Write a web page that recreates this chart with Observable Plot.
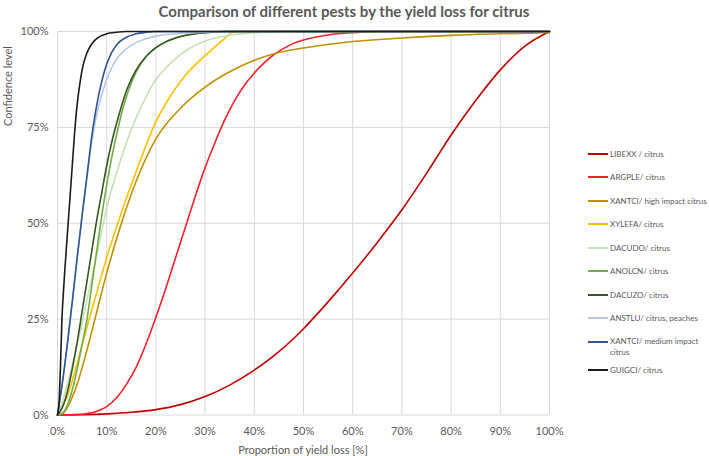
<!DOCTYPE html>
<html>
<head>
<meta charset="utf-8">
<script src="https://cdn.jsdelivr.net/npm/d3@7"></script>
<script src="https://cdn.jsdelivr.net/npm/@observablehq/plot@0.6"></script>
<style>
  body { margin: 0; background: #fff; font-family: Lato, "Open Sans", sans-serif; }
  #wrap { position: relative; width: 709px; height: 456px; overflow: hidden; }
  #title { position: absolute; left: 0; width: 688px; top: 2px; text-align: center; font-weight: bold; font-size: 15px; color: #595959; }
  #ylab { position: absolute; left: 7px; top: 86px; transform: translate(-50%, -50%) rotate(-90deg); white-space: nowrap; font-size: 11px; color: #595959; }
  #xlab { position: absolute; left: 303px; top: 449px; transform: translate(-50%, -50%); white-space: nowrap; font-size: 11px; color: #595959; }
  .leg { position: absolute; left: 588px; width: 118px; display: flex; align-items: flex-start; font-size: 8px; color: #595959; }
  .leg .sw { width: 20px; height: 2px; margin-top: 5px; margin-right: 2px; flex: none; }
  .leg .tx { flex: none; width: 96px; line-height: 12px; white-space: nowrap; }
  .leg .tx.wrapme { width: 92px; white-space: normal; line-height: 11px; margin-top: 0.5px; }
</style>
</head>
<body>
<div id="wrap">
  <div id="chart"></div>
  <div id="title">Comparison of different pests by the yield loss for citrus</div>
  <div id="ylab">Confidence level</div>
  <div id="xlab">Proportion of yield loss [%]</div>
</div>
<script>
// Series names and colours
const seriesNames = ["LIBEXX / citrus", "ARGPLE/ citrus", "XANTCI/ high impact citrus", "XYLEFA/ citrus", "DACUDO/ citrus", "ANOLCN/ citrus", "DACUZO/ citrus", "ANSTLU/ citrus, peaches", "XANTCI/ medium impact citrus", "GUIGCI/ citrus"];
const seriesColors = ["#C00000", "#F5212A", "#BF9000", "#FFC000", "#C5E0B4", "#70AD47", "#375623", "#B4C7E7", "#2F5597", "#1A1A1A"];

// Tick values
const xTicks = [0, 10, 20, 30, 40, 50, 60, 70, 80, 90, 100];
const yTicks = [0, 0.25, 0.5, 0.75, 1];

// Curve points: x = yield loss [%], y = confidence level
const libexxX = [0, 5, 10, 15, 20, 25, 30, 35, 40, 45, 50, 55, 60, 65, 70, 75, 80, 85, 90, 95, 100];
const libexxY = [0, 0.001, 0.003, 0.007, 0.014, 0.027, 0.048, 0.078, 0.117, 0.165, 0.225, 0.295, 0.37, 0.45, 0.535, 0.63, 0.73, 0.82, 0.9, 0.962, 1.0];

const argpleX = [0, 2, 4, 6, 8, 10, 12, 14, 16, 18, 20, 22, 24, 26, 28, 30, 32, 34, 36, 38, 40, 42, 44, 46, 48, 50, 55, 60, 65, 100];
const argpleY = [0, 0, 0.001, 0.004, 0.01, 0.022, 0.045, 0.08, 0.125, 0.185, 0.255, 0.33, 0.41, 0.49, 0.57, 0.645, 0.71, 0.77, 0.82, 0.86, 0.892, 0.918, 0.94, 0.956, 0.969, 0.978, 0.991, 0.997, 1.0, 1.0];

const xantciHighX = [0, 1, 2, 4, 6, 8, 10, 13, 16, 20, 25, 30, 35, 40, 45, 50, 60, 70, 80, 90, 100];
const xantciHighY = [0, 0.003, 0.02, 0.08, 0.17, 0.27, 0.37, 0.5, 0.61, 0.72, 0.8, 0.855, 0.895, 0.925, 0.945, 0.957, 0.974, 0.983, 0.99, 0.994, 0.997];

const xylefaX = [0, 2, 4, 6, 8, 10, 12, 14, 16, 18, 20, 22, 24, 26, 28, 30, 32, 34, 35, 36, 100];
const xylefaY = [0, 0.05, 0.135, 0.23, 0.32, 0.41, 0.49, 0.565, 0.635, 0.703, 0.765, 0.812, 0.852, 0.886, 0.913, 0.937, 0.96, 0.982, 0.993, 1.0, 1.0];

const dacudoX = [0, 1, 2, 3, 4, 5, 6, 7, 8, 9, 10, 12, 14, 16, 18, 20, 22, 25, 30, 35, 40, 45, 100];
const dacudoY = [0, 0.035, 0.08, 0.13, 0.185, 0.24, 0.3, 0.36, 0.42, 0.48, 0.54, 0.63, 0.71, 0.775, 0.83, 0.875, 0.905, 0.94, 0.975, 0.99, 0.997, 1.0, 1.0];

const anolcnX = [0, 1, 2, 3, 4, 5, 6, 7, 8, 9, 10, 11, 12, 13, 14, 15, 16, 18, 20, 22, 25, 30, 35, 100];
const anolcnY = [0, 0.005, 0.025, 0.065, 0.12, 0.185, 0.25, 0.34, 0.43, 0.52, 0.6, 0.67, 0.73, 0.785, 0.83, 0.865, 0.895, 0.935, 0.958, 0.973, 0.987, 0.997, 1.0, 1.0];

const dacuzoX = [0, 1, 2, 3, 4, 5, 6, 7, 8, 9, 10, 11, 12, 13, 14, 15, 16, 18, 20, 22, 25, 30, 35, 100];
const dacuzoY = [0, 0.02, 0.06, 0.12, 0.19, 0.27, 0.35, 0.43, 0.51, 0.58, 0.65, 0.71, 0.76, 0.805, 0.845, 0.875, 0.9, 0.935, 0.958, 0.973, 0.987, 0.997, 1.0, 1.0];

const anstluX = [0, 1, 2, 3, 4, 5, 6, 7, 8, 9, 10, 11, 12, 14, 16, 18, 20, 25, 30, 35, 100];
const anstluY = [0, 0.085, 0.185, 0.295, 0.41, 0.52, 0.62, 0.715, 0.785, 0.835, 0.875, 0.905, 0.928, 0.955, 0.971, 0.981, 0.988, 0.995, 0.998, 1.0, 1.0];

const xantciMedX = [0, 1, 2, 3, 4, 5, 6, 7, 8, 9, 10, 11, 12, 14, 16, 18, 20, 100];
const xantciMedY = [0, 0.085, 0.185, 0.295, 0.41, 0.52, 0.625, 0.73, 0.81, 0.87, 0.915, 0.945, 0.965, 0.985, 0.994, 0.998, 1.0, 1.0];

const guigciX = [0, 0.3, 0.6, 0.9, 1.2, 1.5, 2, 2.5, 3, 3.5, 4, 4.5, 5, 6, 7, 8, 10, 12, 14, 100];
const guigciY = [0, 0.03, 0.125, 0.25, 0.32, 0.38, 0.47, 0.56, 0.65, 0.74, 0.81, 0.86, 0.9, 0.945, 0.968, 0.982, 0.994, 0.998, 1.0, 1.0];

const seriesX = [libexxX, argpleX, xantciHighX, xylefaX, dacudoX, anolcnX, dacuzoX, anstluX, xantciMedX, guigciX];
const seriesY = [libexxY, argpleY, xantciHighY, xylefaY, dacudoY, anolcnY, dacuzoY, anstluY, xantciMedY, guigciY];

const table = [];
seriesNames.forEach((name, i) => {
  seriesX[i].forEach((x, j) => table.push({series: name, x, y: seriesY[i][j]}));
});

const chart = Plot.plot({
  width: 709,
  height: 456,
  marginLeft: 57,
  marginRight: 160,
  marginTop: 31,
  marginBottom: 41.5,
  style: {fontFamily: "Lato, 'Open Sans', sans-serif", fontSize: "11px", color: "#595959", background: "#fff"},
  x: {domain: [0, 100], ticks: xTicks, tickFormat: d => d + "%", label: null},
  y: {domain: [0, 1], ticks: yTicks, tickFormat: d => Math.round(d * 100) + "%", label: null},
  color: {domain: seriesNames, range: seriesColors},
  marks: [
    Plot.gridX(xTicks, {stroke: "#D9D9D9", strokeOpacity: 1, strokeWidth: 1}),
    Plot.gridY(yTicks, {stroke: "#D9D9D9", strokeOpacity: 1, strokeWidth: 1}),
    Plot.axisX({ticks: xTicks, tickSize: 0, tickPadding: 12, tickFormat: d => d + "%", fill: "#595959", label: null}),
    Plot.axisY({ticks: yTicks, tickSize: 0, tickPadding: 9, tickFormat: d => Math.round(d * 100) + "%", fill: "#595959", label: null}),
    Plot.line(table, {x: "x", y: "y", z: "series", stroke: "series", strokeWidth: 1.6, curve: "monotone-x"})
  ]
});
document.getElementById("chart").appendChild(chart);

// Legend
const wrap = document.getElementById("wrap");
const legendTops = [147.5, 171, 194.5, 218, 241.5, 265, 288.5, 312, 335.5, 363.5];
seriesNames.forEach((name, i) => {
  const item = document.createElement("div");
  item.className = "leg";
  item.style.top = legendTops[i] + "px";
  const sw = document.createElement("div");
  sw.className = "sw";
  sw.style.background = seriesColors[i];
  const tx = document.createElement("div");
  tx.className = i === 8 ? "tx wrapme" : "tx";
  tx.textContent = name;
  item.appendChild(sw);
  item.appendChild(tx);
  wrap.appendChild(item);
});
</script>
</body>
</html>
